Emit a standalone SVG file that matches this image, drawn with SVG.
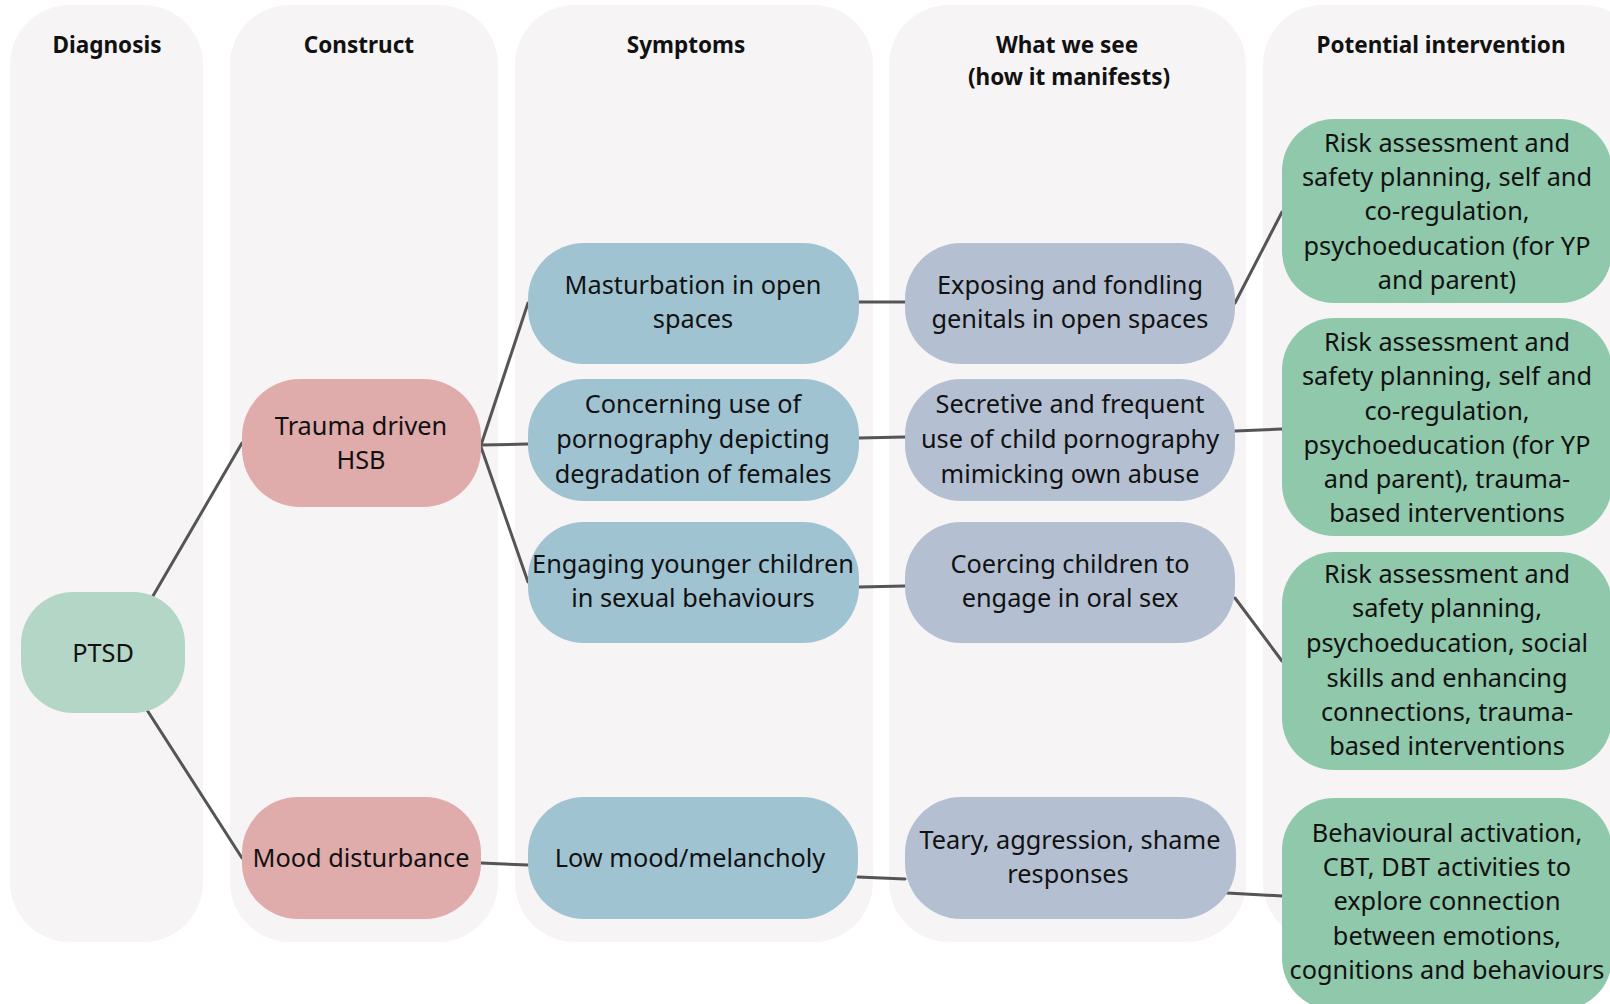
<svg xmlns="http://www.w3.org/2000/svg" width="1610" height="1004" viewBox="0 0 1610 1004">
<style>
.col{fill:#f6f4f5}
.hd{font-family:"Noto Sans","Open Sans",sans-serif;font-weight:bold;font-size:22.5px;fill:#111;text-anchor:middle}
.t{font-family:"Noto Sans","Open Sans",sans-serif;font-size:25.3px;fill:#111;text-anchor:middle}
.dx{fill:#b3d6c6}
.cn{fill:#e0abab}
.sy{fill:#a0c3d2}
.ws{fill:#b4c0d1}
.pi{fill:#8fc8ab}
.ln{stroke:#555;stroke-width:3;fill:none;stroke-linecap:round}
</style>
<rect width="1610" height="1004" fill="#ffffff"/>
<g id="columns">
<rect class="col" x="10" y="5" width="193" height="937" rx="60"/>
<rect class="col" x="230" y="5" width="268" height="937" rx="60"/>
<rect class="col" x="515" y="5" width="358" height="937" rx="60"/>
<rect class="col" x="889" y="5" width="357" height="937" rx="60"/>
<rect class="col" x="1263" y="5" width="380" height="937" rx="60"/>
<text class="hd" x="107" y="53">Diagnosis</text>
<text class="hd" x="359" y="53">Construct</text>
<text class="hd" x="686" y="53">Symptoms</text>
<text class="hd" x="1067" y="53">What we see</text>
<text class="hd" x="1069" y="85">(how it manifests)</text>
<text class="hd" x="1441" y="53">Potential intervention</text>
</g>
<g id="connectors">
<line class="ln" x1="153" y1="596" x2="242" y2="443"/>
<line class="ln" x1="147" y1="710" x2="242" y2="858"/>
<line class="ln" x1="481" y1="445" x2="528" y2="303"/>
<line class="ln" x1="481" y1="445" x2="528" y2="444"/>
<line class="ln" x1="481" y1="447" x2="528" y2="582"/>
<line class="ln" x1="859" y1="302" x2="905" y2="302"/>
<line class="ln" x1="859" y1="438" x2="905" y2="437"/>
<line class="ln" x1="859" y1="587" x2="905" y2="586"/>
<line class="ln" x1="481" y1="863" x2="528" y2="865"/>
<line class="ln" x1="858" y1="877" x2="905" y2="879"/>
<line class="ln" x1="1235" y1="303" x2="1282" y2="212"/>
<line class="ln" x1="1235" y1="431" x2="1282" y2="429"/>
<line class="ln" x1="1235" y1="598" x2="1282" y2="661"/>
<line class="ln" x1="1227" y1="893" x2="1282" y2="896"/>
</g>
<g id="ptsd">
<rect class="dx" x="21" y="592" width="164" height="121" rx="52"/>
<text class="t" x="103" y="662">PTSD</text>
</g>
<g id="trauma-hsb">
<rect class="cn" x="242" y="379" width="239" height="128" rx="58"/>
<text class="t" x="361" y="435">Trauma driven</text>
<text class="t" x="361" y="469">HSB</text>
</g>
<g id="mood-disturbance">
<rect class="cn" x="242" y="797" width="239" height="122" rx="56"/>
<text class="t" x="361" y="867">Mood disturbance</text>
</g>
<g id="masturbation">
<rect class="sy" x="528" y="243" width="331" height="121" rx="56"/>
<text class="t" x="693" y="294">Masturbation in open</text>
<text class="t" x="693" y="328">spaces</text>
</g>
<g id="concerning-use">
<rect class="sy" x="528" y="379" width="331" height="122" rx="56"/>
<text class="t" x="693" y="413">Concerning use of</text>
<text class="t" x="693" y="448">pornography depicting</text>
<text class="t" x="693" y="483">degradation of females</text>
</g>
<g id="engaging-younger">
<rect class="sy" x="528" y="522" width="331" height="121" rx="56"/>
<text class="t" x="693" y="573">Engaging younger children</text>
<text class="t" x="693" y="607">in sexual behaviours</text>
</g>
<g id="low-mood">
<rect class="sy" x="528" y="797" width="330" height="122" rx="56"/>
<text class="t" x="690" y="867">Low mood/melancholy</text>
</g>
<g id="exposing">
<rect class="ws" x="905" y="243" width="330" height="121" rx="56"/>
<text class="t" x="1070" y="294">Exposing and fondling</text>
<text class="t" x="1070" y="328">genitals in open spaces</text>
</g>
<g id="secretive">
<rect class="ws" x="905" y="379" width="330" height="122" rx="56"/>
<text class="t" x="1070" y="413">Secretive and frequent</text>
<text class="t" x="1070" y="448">use of child pornography</text>
<text class="t" x="1070" y="483">mimicking own abuse</text>
</g>
<g id="coercing">
<rect class="ws" x="905" y="522" width="330" height="121" rx="56"/>
<text class="t" x="1070" y="573">Coercing children to</text>
<text class="t" x="1070" y="607">engage in oral sex</text>
</g>
<g id="teary">
<rect class="ws" x="905" y="797" width="331" height="122" rx="56"/>
<text class="t" x="1070" y="849">Teary, aggression, shame</text>
<text class="t" x="1068" y="883">responses</text>
</g>
<g id="intervention-1">
<rect class="pi" x="1282" y="119" width="330" height="184" rx="52"/>
<text class="t" x="1447" y="152">Risk assessment and</text>
<text class="t" x="1447" y="186">safety planning, self and</text>
<text class="t" x="1447" y="220">co-regulation,</text>
<text class="t" x="1447" y="255">psychoeducation (for YP</text>
<text class="t" x="1447" y="289">and parent)</text>
</g>
<g id="intervention-2">
<rect class="pi" x="1282" y="318" width="330" height="218" rx="52"/>
<text class="t" x="1447" y="351">Risk assessment and</text>
<text class="t" x="1447" y="385">safety planning, self and</text>
<text class="t" x="1447" y="420">co-regulation,</text>
<text class="t" x="1447" y="454">psychoeducation (for YP</text>
<text class="t" x="1447" y="488">and parent), trauma-</text>
<text class="t" x="1447" y="522">based interventions</text>
</g>
<g id="intervention-3">
<rect class="pi" x="1282" y="552" width="330" height="218" rx="52"/>
<text class="t" x="1447" y="583">Risk assessment and</text>
<text class="t" x="1447" y="617">safety planning,</text>
<text class="t" x="1447" y="652">psychoeducation, social</text>
<text class="t" x="1447" y="687">skills and enhancing</text>
<text class="t" x="1447" y="721">connections, trauma-</text>
<text class="t" x="1447" y="755">based interventions</text>
</g>
<g id="intervention-4">
<rect class="pi" x="1282" y="798" width="330" height="212" rx="52"/>
<text class="t" x="1447" y="842">Behavioural activation,</text>
<text class="t" x="1447" y="876">CBT, DBT activities to</text>
<text class="t" x="1447" y="910">explore connection</text>
<text class="t" x="1447" y="945">between emotions,</text>
<text class="t" x="1447" y="979">cognitions and behaviours</text>
</g>
</svg>
